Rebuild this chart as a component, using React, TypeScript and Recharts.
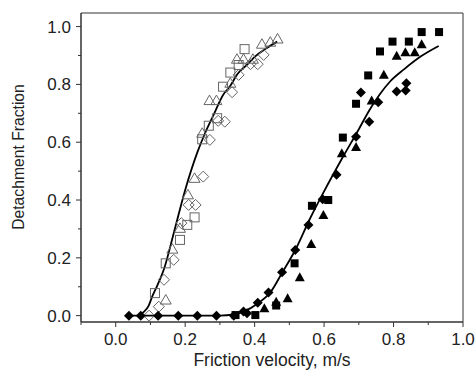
import {
  ComposedChart,
  Line,
  ReferenceArea,
  Scatter,
  XAxis,
  YAxis,
} from 'recharts';

type Pt = { x: number; y: number };

// open markers (left group)
const openSquares: Pt[] = [
  { x: 0.113, y: 0.078 }, { x: 0.144, y: 0.181 }, { x: 0.185, y: 0.262 },
  { x: 0.206, y: 0.314 }, { x: 0.227, y: 0.34 }, { x: 0.249, y: 0.61 },
  { x: 0.268, y: 0.657 }, { x: 0.292, y: 0.683 }, { x: 0.309, y: 0.792 },
  { x: 0.33, y: 0.841 }, { x: 0.354, y: 0.867 }, { x: 0.371, y: 0.922 },
];
const openDiamonds: Pt[] = [
  { x: 0.096, y: 0.0 }, { x: 0.124, y: 0.031 }, { x: 0.139, y: 0.124 },
  { x: 0.167, y: 0.193 }, { x: 0.189, y: 0.32 }, { x: 0.21, y: 0.383 },
  { x: 0.23, y: 0.383 }, { x: 0.252, y: 0.481 }, { x: 0.271, y: 0.608 },
  { x: 0.295, y: 0.674 }, { x: 0.314, y: 0.671 }, { x: 0.335, y: 0.773 },
  { x: 0.354, y: 0.833 }, { x: 0.388, y: 0.87 }, { x: 0.409, y: 0.87 },
  { x: 0.426, y: 0.902 },
];
const openTriangles: Pt[] = [
  { x: 0.144, y: 0.054 }, { x: 0.163, y: 0.23 }, { x: 0.185, y: 0.302 },
  { x: 0.208, y: 0.418 }, { x: 0.227, y: 0.475 }, { x: 0.249, y: 0.631 },
  { x: 0.27, y: 0.744 }, { x: 0.29, y: 0.744 }, { x: 0.33, y: 0.804 },
  { x: 0.349, y: 0.887 }, { x: 0.368, y: 0.887 }, { x: 0.395, y: 0.887 },
  { x: 0.421, y: 0.939 }, { x: 0.445, y: 0.946 }, { x: 0.466, y: 0.957 },
];

// filled markers (right group)
const filledSquares: Pt[] = [
  { x: 0.345, y: 0.002 }, { x: 0.402, y: 0.002 }, { x: 0.462, y: 0.035 },
  { x: 0.515, y: 0.181 }, { x: 0.565, y: 0.38 }, { x: 0.612, y: 0.4 },
  { x: 0.654, y: 0.616 }, { x: 0.692, y: 0.733 }, { x: 0.727, y: 0.831 },
  { x: 0.761, y: 0.914 }, { x: 0.797, y: 0.948 }, { x: 0.844, y: 0.948 },
  { x: 0.881, y: 0.981 }, { x: 0.931, y: 0.981 },
];
const filledDiamonds: Pt[] = [
  { x: 0.038, y: 0 }, { x: 0.072, y: 0 }, { x: 0.122, y: 0 }, { x: 0.18, y: 0 },
  { x: 0.235, y: 0 }, { x: 0.29, y: 0 }, { x: 0.34, y: 0 }, { x: 0.368, y: 0.014 },
  { x: 0.378, y: 0.008 }, { x: 0.409, y: 0.045 }, { x: 0.44, y: 0.08 },
  { x: 0.479, y: 0.15 }, { x: 0.517, y: 0.227 }, { x: 0.555, y: 0.314 },
  { x: 0.596, y: 0.403 }, { x: 0.636, y: 0.487 }, { x: 0.692, y: 0.619 },
  { x: 0.706, y: 0.772 }, { x: 0.73, y: 0.671 }, { x: 0.756, y: 0.738 },
  { x: 0.809, y: 0.775 }, { x: 0.835, y: 0.779 }, { x: 0.837, y: 0.804 },
];
const filledTriangles: Pt[] = [
  { x: 0.428, y: 0.026 }, { x: 0.462, y: 0.048 }, { x: 0.495, y: 0.06 },
  { x: 0.53, y: 0.133 }, { x: 0.563, y: 0.248 }, { x: 0.598, y: 0.348 },
  { x: 0.651, y: 0.562 }, { x: 0.692, y: 0.583 }, { x: 0.737, y: 0.744 },
  { x: 0.772, y: 0.833 }, { x: 0.809, y: 0.899 }, { x: 0.834, y: 0.911 },
  { x: 0.861, y: 0.911 }, { x: 0.881, y: 0.939 },
];

// fitted curves
const leftFit: Pt[] = [
  { x: 0.065, y: 0 }, { x: 0.08, y: 0.012 }, { x: 0.095, y: 0.035 },
  { x: 0.105, y: 0.066 }, { x: 0.12, y: 0.105 }, { x: 0.14, y: 0.165 },
  { x: 0.167, y: 0.285 }, { x: 0.2, y: 0.435 }, { x: 0.235, y: 0.565 },
  { x: 0.255, y: 0.625 }, { x: 0.28, y: 0.69 }, { x: 0.31, y: 0.765 },
  { x: 0.33, y: 0.795 }, { x: 0.35, y: 0.835 }, { x: 0.38, y: 0.87 },
  { x: 0.4, y: 0.895 }, { x: 0.43, y: 0.922 }, { x: 0.465, y: 0.948 },
];
const rightFit: Pt[] = [
  { x: 0.04, y: 0 }, { x: 0.3, y: 0 }, { x: 0.34, y: 0.004 },
  { x: 0.37, y: 0.015 }, { x: 0.41, y: 0.043 }, { x: 0.445, y: 0.08 },
  { x: 0.48, y: 0.15 }, { x: 0.517, y: 0.227 }, { x: 0.56, y: 0.337 },
  { x: 0.6, y: 0.43 }, { x: 0.65, y: 0.54 }, { x: 0.7, y: 0.645 },
  { x: 0.73, y: 0.71 }, { x: 0.76, y: 0.765 }, { x: 0.79, y: 0.81 },
  { x: 0.83, y: 0.852 }, { x: 0.88, y: 0.898 }, { x: 0.93, y: 0.933 },
];

const xTicks = [-0.1, 0, 0.1, 0.2, 0.3, 0.4, 0.5, 0.6, 0.7, 0.8, 0.9, 1.0];
const yTicks = [0, 0.1, 0.2, 0.3, 0.4, 0.5, 0.6, 0.7, 0.8, 0.9, 1.0];

const FONT = '"Liberation Sans", Arial, sans-serif';
const AXIS = '#333';
const OPEN = '#666';

const isMajor = (v: number) => Math.round(v * 10) % 2 === 0;

const XTick = (props: any) => {
  const { x, y, payload } = props;
  const major = isMajor(payload.value);
  return (
    <g>
      <line x1={x} x2={x} y1={y} y2={y + (major ? 5 : 3)} stroke={AXIS} />
      {major && (
        <text x={x} y={y + 23} textAnchor="middle" fontSize={17} fill="#222" fontFamily={FONT}>
          {payload.value.toFixed(1)}
        </text>
      )}
    </g>
  );
};

const YTick = (props: any) => {
  const { x, y, payload } = props;
  const major = isMajor(payload.value);
  return (
    <g>
      <line x1={x - (major ? 5 : 3)} x2={x} y1={y} y2={y} stroke={AXIS} />
      {major && (
        <text x={x - 10} y={y + 6} textAnchor="end" fontSize={17} fill="#222" fontFamily={FONT}>
          {payload.value.toFixed(1)}
        </text>
      )}
    </g>
  );
};

const openSquare = (p: any) => (
  <rect x={p.cx - 4.5} y={p.cy - 4.5} width={9} height={9} fill="none" stroke={OPEN} />
);
const openDiamond = (p: any) => (
  <polygon
    points={`${p.cx},${p.cy - 5.5} ${p.cx + 5.5},${p.cy} ${p.cx},${p.cy + 5.5} ${p.cx - 5.5},${p.cy}`}
    fill="none"
    stroke={OPEN}
  />
);
const openTriangle = (p: any) => (
  <polygon
    points={`${p.cx},${p.cy - 5.5} ${p.cx + 5.5},${p.cy + 4} ${p.cx - 5.5},${p.cy + 4}`}
    fill="none"
    stroke={OPEN}
  />
);
const filledSquare = (p: any) => (
  <rect x={p.cx - 4} y={p.cy - 4} width={8} height={8} fill="#000" />
);
const filledDiamond = (p: any) => (
  <polygon
    points={`${p.cx},${p.cy - 5} ${p.cx + 5},${p.cy} ${p.cx},${p.cy + 5} ${p.cx - 5},${p.cy}`}
    fill="#000"
  />
);
const filledTriangle = (p: any) => (
  <polygon
    points={`${p.cx},${p.cy - 5} ${p.cx + 5},${p.cy + 4} ${p.cx - 5},${p.cy + 4}`}
    fill="#000"
  />
);

export default function App() {
  return (
    <div style={{ position: 'absolute', left: 0, top: 0 }}>
      <ComposedChart
        width={476}
        height={372}
        margin={{ top: 13, right: 13, left: 0, bottom: 0 }}
      >
        <XAxis
          type="number"
          dataKey="x"
          domain={[-0.1, 1.0]}
          ticks={xTicks}
          allowDataOverflow
          height={50}
          tickSize={0}
          tickMargin={0}
          tickLine={false}
          stroke={AXIS}
          tick={<XTick />}
          interval={0}
          label={{
            content: () => (
              <text x={272} y={366} textAnchor="middle" fontSize={17.5} fill="#222" fontFamily={FONT}>
                Friction velocity, m/s
              </text>
            ),
          }}
        />
        <YAxis
          type="number"
          dataKey="y"
          domain={[-0.022, 1.047]}
          ticks={yTicks}
          allowDataOverflow
          width={81}
          tickSize={0}
          tickMargin={0}
          tickLine={false}
          stroke={AXIS}
          tick={<YTick />}
          interval={0}
          label={{
            content: () => (
              <text
                x={23.5}
                y={157}
                transform="rotate(-90 23.5 157)"
                textAnchor="middle"
                fontSize={15.7}
                fill="#222"
                fontFamily={FONT}
              >
                Detachment Fraction
              </text>
            ),
          }}
        />
        <ReferenceArea
          x1={-0.1}
          x2={1.0}
          y1={-0.022}
          y2={1.047}
          fill="none"
          stroke={AXIS}
          strokeWidth={1}
          ifOverflow="visible"
        />
        <Line data={leftFit} dataKey="y" type="monotone" stroke="#000" strokeWidth={1.8} dot={false} isAnimationActive={false} />
        <Line data={rightFit} dataKey="y" type="monotone" stroke="#000" strokeWidth={1.8} dot={false} isAnimationActive={false} />
        <Scatter data={openSquares} shape={openSquare} isAnimationActive={false} />
        <Scatter data={openDiamonds} shape={openDiamond} isAnimationActive={false} />
        <Scatter data={openTriangles} shape={openTriangle} isAnimationActive={false} />
        <Scatter data={filledSquares} shape={filledSquare} isAnimationActive={false} />
        <Scatter data={filledDiamonds} shape={filledDiamond} isAnimationActive={false} />
        <Scatter data={filledTriangles} shape={filledTriangle} isAnimationActive={false} />
      </ComposedChart>
    </div>
  );
}
